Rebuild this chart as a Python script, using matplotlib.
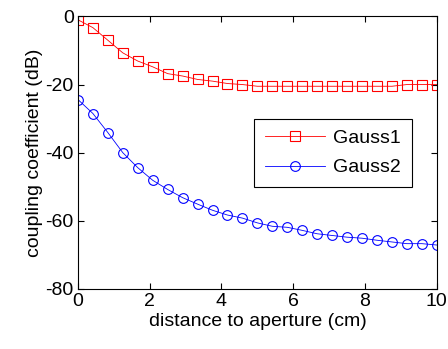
import numpy as np
import matplotlib
matplotlib.use('Agg')
import matplotlib.pyplot as plt

plt.rcParams['font.family'] = ['Liberation Sans', 'DejaVu Sans']
plt.rcParams['axes.unicode_minus'] = False

x = np.linspace(0, 10, 25)
gauss1 = [-1.0, -3.3, -7.0, -10.7, -13.1, -14.8, -16.8, -17.5, -18.5, -19.0,
          -19.7, -20.0, -20.5, -20.5, -20.5, -20.5, -20.5, -20.5, -20.5, -20.5,
          -20.5, -20.5, -20.0, -20.0, -20.0]
gauss2 = [-24.4, -28.5, -34.1, -40.0, -44.4, -48.1, -50.8, -53.2, -55.1, -56.9,
          -58.3, -59.2, -60.6, -61.6, -61.9, -62.8, -63.8, -64.3, -64.8, -65.1,
          -65.7, -66.2, -66.7, -66.7, -67.1]

fs = 14

fig = plt.figure(figsize=(4.48, 3.49), dpi=100)
ax = fig.add_axes([0.174, 0.172, 0.801, 0.781])

ax.plot(x, gauss1, '-s', color='red', lw=0.6, ms=7, mfc='none', mew=0.8, label='Gauss1')
ax.plot(x, gauss2, '-o', color='blue', lw=0.6, ms=7, mfc='none', mew=0.8, label='Gauss2')

ax.set_xlim(0, 10)
ax.set_ylim(-80, 0)
ax.set_xticks([0, 2, 4, 6, 8, 10])
ax.set_yticks([-80, -60, -40, -20, 0])
ax.tick_params(direction='in', top=True, right=True, labelsize=fs, length=4, width=0.8, pad=3)
for s in ax.spines.values():
    s.set_linewidth(0.8)
ax.set_xlabel('distance to aperture (cm)', fontsize=fs, labelpad=2)
ax.set_ylabel('coupling coefficient (dB)', fontsize=fs, labelpad=2)

leg = ax.legend(loc='upper right', bbox_to_anchor=(0.930, 0.624), borderaxespad=0,
                fontsize=fs, fancybox=False, edgecolor='black', framealpha=1,
                handlelength=3.1, handletextpad=0.4, numpoints=1,
                borderpad=0.55, labelspacing=0.6)
leg.get_frame().set_linewidth(0.8)

plt.savefig('out.png', dpi=100)
